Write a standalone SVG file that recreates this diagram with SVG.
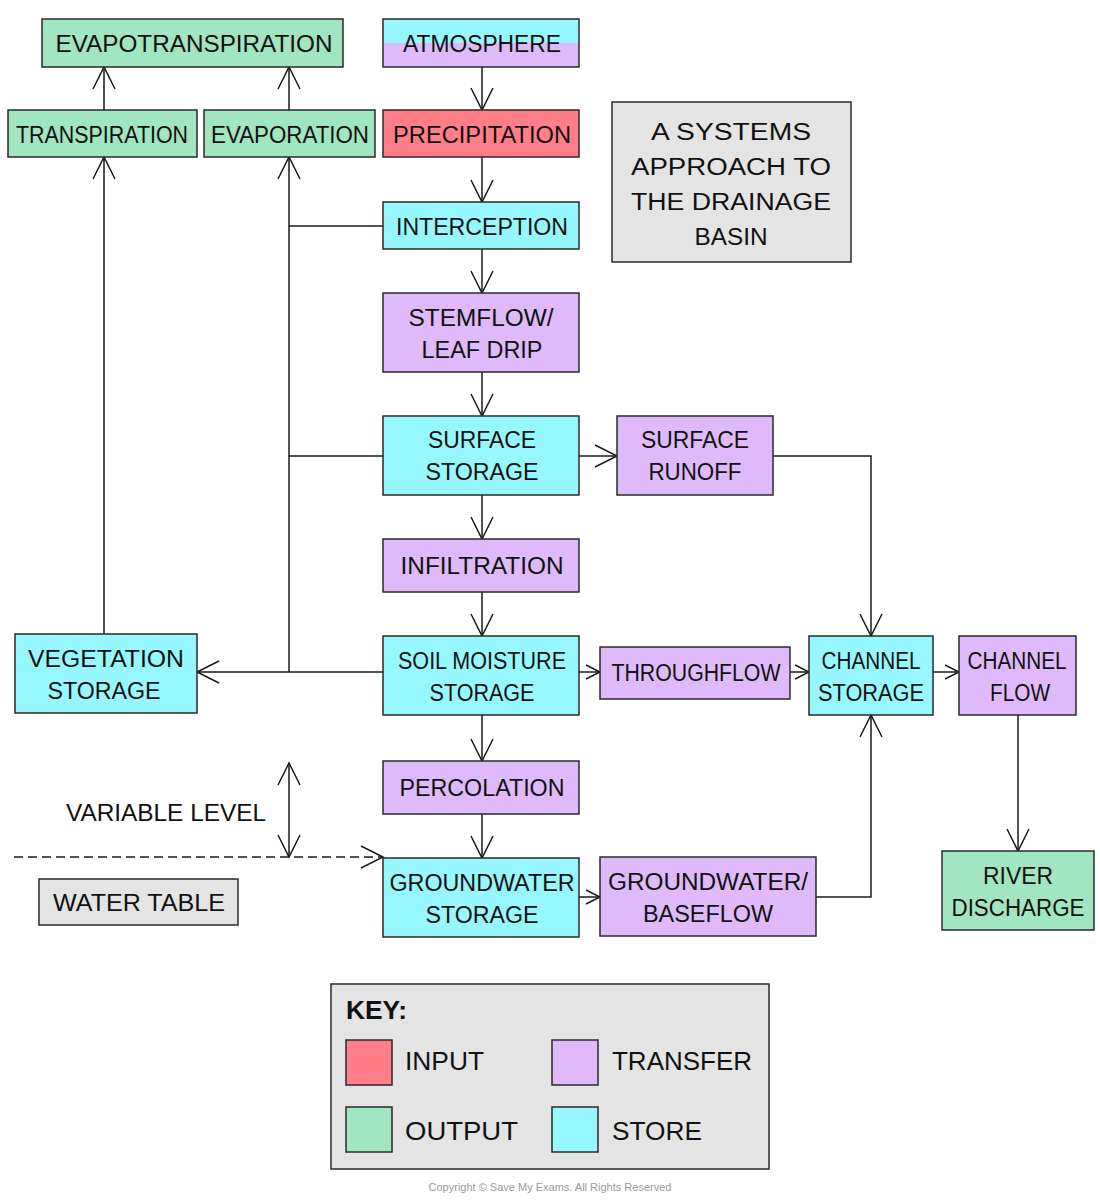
<svg xmlns="http://www.w3.org/2000/svg" width="1100" height="1204" viewBox="0 0 1100 1204">
<style>
.b{stroke:#2a2a2a;stroke-width:1.5}
.in{fill:#ff7e87}.out{fill:#a1e5c1}.tr{fill:#dfb9f9}.st{fill:#96f8fe}.gr{fill:#e4e4e4}
text{font-family:"Liberation Sans",Arial,sans-serif;font-size:23px;fill:#111;text-anchor:middle}
.c path{fill:none;stroke:#1a1a1a;stroke-width:1.5}
.k{font-size:26px;text-anchor:start}
</style>
<defs>
<marker id="a" viewBox="-25 -13 27 26" refX="0" refY="0" markerWidth="27" markerHeight="26" markerUnits="userSpaceOnUse" orient="auto-start-reverse">
<path d="M-22,-11 L0,0 L-22,11" fill="none" stroke="#1a1a1a" stroke-width="1.5"/>
</marker>
<marker id="s" viewBox="-17 -9 19 18" refX="0" refY="0" markerWidth="19" markerHeight="18" markerUnits="userSpaceOnUse" orient="auto">
<path d="M-14,-7 L0,0 L-14,7" fill="none" stroke="#1a1a1a" stroke-width="1.5"/>
</marker>
</defs>
<rect width="1100" height="1204" fill="#fff"/>

<g class="c" id="connectors">
<path d="M482,67 V110" marker-end="url(#a)"/>
<path d="M482,157 V202" marker-end="url(#a)"/>
<path d="M482,249 V293" marker-end="url(#a)"/>
<path d="M482,372 V416" marker-end="url(#a)"/>
<path d="M482,495 V539" marker-end="url(#a)"/>
<path d="M482,592 V636" marker-end="url(#a)"/>
<path d="M482,715 V761" marker-end="url(#a)"/>
<path d="M482,814 V858" marker-end="url(#a)"/>
<path d="M579,456 H617" marker-end="url(#a)"/>
<path d="M773,456 H871 V636" marker-end="url(#a)"/>
<path d="M579,672 H600" marker-end="url(#s)"/>
<path d="M790,672 H809" marker-end="url(#s)"/>
<path d="M933,672 H959" marker-end="url(#s)"/>
<path d="M1018,715 V851" marker-end="url(#a)"/>
<path d="M579,897 H600" marker-end="url(#s)"/>
<path d="M816,897 H871 V715" marker-end="url(#a)"/>
<path d="M383,226 H289"/>
<path d="M383,456 H289"/>
<path d="M289,672 V157" marker-end="url(#a)"/>
<path d="M383,672 H197" marker-end="url(#a)"/>
<path d="M104,634 V157" marker-end="url(#a)"/>
<path d="M104,110 V67" marker-end="url(#a)"/>
<path d="M289,110 V67" marker-end="url(#a)"/>
<path d="M289,763 V857" marker-start="url(#a)" marker-end="url(#a)"/>
<path d="M14,857 H383" stroke-dasharray="9 5" marker-end="url(#a)"/>
</g>

<g id="evapotranspiration"><rect class="b out" x="42" y="19" width="301" height="48"/><text x="194" y="52" textLength="277" lengthAdjust="spacingAndGlyphs">EVAPOTRANSPIRATION</text></g>
<g id="atmosphere"><rect x="383" y="19" width="196" height="24" class="st"/><rect x="383" y="43" width="196" height="24" class="tr"/><rect class="b" fill="none" x="383" y="19" width="196" height="48"/><text x="482" y="52" textLength="158" lengthAdjust="spacingAndGlyphs">ATMOSPHERE</text></g>
<g id="transpiration"><rect class="b out" x="8" y="110" width="189" height="47"/><text x="102" y="143" textLength="172" lengthAdjust="spacingAndGlyphs">TRANSPIRATION</text></g>
<g id="evaporation"><rect class="b out" x="204" y="110" width="171" height="47"/><text x="290" y="143" textLength="158" lengthAdjust="spacingAndGlyphs">EVAPORATION</text></g>
<g id="precipitation"><rect class="b in" x="383" y="110" width="196" height="47"/><text x="482" y="143" textLength="178" lengthAdjust="spacingAndGlyphs">PRECIPITATION</text></g>
<g id="title"><rect class="b gr" x="612" y="102" width="239" height="160"/>
<text x="731" y="140" font-size="25" textLength="160" lengthAdjust="spacingAndGlyphs">A SYSTEMS</text>
<text x="731" y="175" font-size="25" textLength="200" lengthAdjust="spacingAndGlyphs">APPROACH TO</text>
<text x="731" y="210" font-size="25" textLength="200" lengthAdjust="spacingAndGlyphs">THE DRAINAGE</text>
<text x="731" y="245" font-size="25" textLength="73" lengthAdjust="spacingAndGlyphs">BASIN</text></g>
<g id="interception"><rect class="b st" x="383" y="202" width="196" height="47"/><text x="482" y="235" textLength="172" lengthAdjust="spacingAndGlyphs">INTERCEPTION</text></g>
<g id="stemflow"><rect class="b tr" x="383" y="293" width="196" height="79"/><text x="481" y="326" textLength="145" lengthAdjust="spacingAndGlyphs">STEMFLOW/</text><text x="482" y="358" textLength="121" lengthAdjust="spacingAndGlyphs">LEAF DRIP</text></g>
<g id="surface-storage"><rect class="b st" x="383" y="416" width="196" height="79"/><text x="482" y="448" textLength="108" lengthAdjust="spacingAndGlyphs">SURFACE</text><text x="482" y="480" textLength="113" lengthAdjust="spacingAndGlyphs">STORAGE</text></g>
<g id="surface-runoff"><rect class="b tr" x="617" y="416" width="156" height="79"/><text x="695" y="448" textLength="108" lengthAdjust="spacingAndGlyphs">SURFACE</text><text x="695" y="480" textLength="93" lengthAdjust="spacingAndGlyphs">RUNOFF</text></g>
<g id="infiltration"><rect class="b tr" x="383" y="539" width="196" height="53"/><text x="482" y="574" textLength="163" lengthAdjust="spacingAndGlyphs">INFILTRATION</text></g>
<g id="soil-moisture"><rect class="b st" x="383" y="636" width="196" height="79"/><text x="482" y="669" textLength="168" lengthAdjust="spacingAndGlyphs">SOIL MOISTURE</text><text x="482" y="701" textLength="105" lengthAdjust="spacingAndGlyphs">STORAGE</text></g>
<g id="throughflow"><rect class="b tr" x="600" y="647" width="190" height="52"/><text x="696" y="681" textLength="169" lengthAdjust="spacingAndGlyphs">THROUGHFLOW</text></g>
<g id="channel-storage"><rect class="b st" x="809" y="636" width="124" height="79"/><text x="871" y="669" textLength="99" lengthAdjust="spacingAndGlyphs">CHANNEL</text><text x="871" y="701" textLength="106" lengthAdjust="spacingAndGlyphs">STORAGE</text></g>
<g id="channel-flow"><rect class="b tr" x="959" y="636" width="117" height="79"/><text x="1017" y="669" textLength="99" lengthAdjust="spacingAndGlyphs">CHANNEL</text><text x="1020" y="701" textLength="60" lengthAdjust="spacingAndGlyphs">FLOW</text></g>
<g id="vegetation-storage"><rect class="b st" x="15" y="634" width="182" height="79"/><text x="106" y="667" textLength="156" lengthAdjust="spacingAndGlyphs">VEGETATION</text><text x="104" y="699" textLength="113" lengthAdjust="spacingAndGlyphs">STORAGE</text></g>
<g id="percolation"><rect class="b tr" x="383" y="761" width="196" height="53"/><text x="482" y="796" textLength="165" lengthAdjust="spacingAndGlyphs">PERCOLATION</text></g>
<g id="variable-level"><text x="166" y="821" textLength="200" lengthAdjust="spacingAndGlyphs">VARIABLE LEVEL</text></g>
<g id="groundwater-storage"><rect class="b st" x="383" y="858" width="196" height="79"/><text x="482" y="891" textLength="185" lengthAdjust="spacingAndGlyphs">GROUNDWATER</text><text x="482" y="923" textLength="113" lengthAdjust="spacingAndGlyphs">STORAGE</text></g>
<g id="baseflow"><rect class="b tr" x="600" y="857" width="216" height="79"/><text x="708" y="890" textLength="200" lengthAdjust="spacingAndGlyphs">GROUNDWATER/</text><text x="708" y="922" textLength="130" lengthAdjust="spacingAndGlyphs">BASEFLOW</text></g>
<g id="river-discharge"><rect class="b out" x="942" y="851" width="152" height="79"/><text x="1018" y="884" textLength="70" lengthAdjust="spacingAndGlyphs">RIVER</text><text x="1018" y="916" textLength="133" lengthAdjust="spacingAndGlyphs">DISCHARGE</text></g>
<g id="water-table"><rect class="b gr" x="39" y="879" width="199" height="46"/><text x="139" y="911" textLength="172" lengthAdjust="spacingAndGlyphs">WATER TABLE</text></g>

<g id="key">
<rect class="b gr" x="331" y="984" width="438" height="185"/>
<text class="k" x="346" y="1019" font-weight="bold" textLength="61" lengthAdjust="spacingAndGlyphs">KEY:</text>
<rect class="b in" x="346" y="1040" width="46" height="45"/>
<text class="k" x="405" y="1070" textLength="79" lengthAdjust="spacingAndGlyphs">INPUT</text>
<rect class="b tr" x="552" y="1040" width="46" height="45"/>
<text class="k" x="612" y="1070" textLength="140" lengthAdjust="spacingAndGlyphs">TRANSFER</text>
<rect class="b out" x="346" y="1107" width="46" height="45"/>
<text class="k" x="405" y="1140" textLength="113" lengthAdjust="spacingAndGlyphs">OUTPUT</text>
<rect class="b st" x="552" y="1107" width="46" height="45"/>
<text class="k" x="612" y="1140" textLength="90" lengthAdjust="spacingAndGlyphs">STORE</text>
</g>
<text x="550" y="1191" font-size="11" style="fill:#9a9a9a;font-size:11px">Copyright © Save My Exams. All Rights Reserved</text>
</svg>
